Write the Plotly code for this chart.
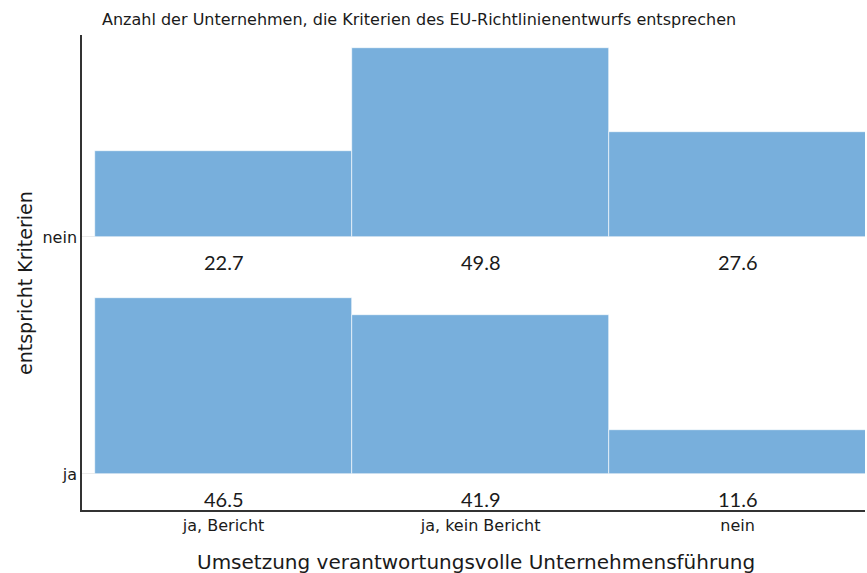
import plotly.graph_objects as go

categories = ["ja, Bericht", "ja, kein Bericht", "nein"]
rows = ["ja", "nein"]
values_ja = [46.5, 41.9, 11.6]
values_nein = [22.7, 49.8, 27.6]

FONT = "DejaVu Sans"
COLOR = "#78afdc"
SCALE = 0.8 / 50.0

# screen geometry of plot area
PL, PR, PT, PB = 82, 865, 35, 510
W, H = 867, 573

def px(xs):
    return (xs - PL) / (PR - PL)

def py(ys):
    return (PB - ys) / (PB - PT)

fig = go.Figure()
x_pos = [1, 2, 3]
annotations = []
for r_idx, vals in ((1, values_ja), (2, values_nein)):
    fig.add_trace(go.Bar(
        x=x_pos,
        y=[v * SCALE for v in vals],
        base=[r_idx] * len(vals),
        width=1,
        marker=dict(color=COLOR, line=dict(color="white", width=0.6)),
        showlegend=False,
        hoverinfo="skip",
    ))
    for xp, v in zip(x_pos, vals):
        annotations.append(dict(
            x=xp, y=r_idx - 0.105, xref="x", yref="y",
            text=f"{v:.1f}", showarrow=False,
            font=dict(family="Lato", size=20, color="#1a1a1a"),
        ))

annotations.append(dict(
    x=px(100), y=py(20), xref="paper", yref="paper",
    text="Anzahl der Unternehmen, die Kriterien des EU-Richtlinienentwurfs entsprechen",
    showarrow=False, font=dict(family=FONT, size=16, color="#1a1a1a"),
    xanchor="left", yanchor="middle",
))
annotations.append(dict(
    x=px(476), y=py(562), xref="paper", yref="paper",
    text="Umsetzung verantwortungsvolle Unternehmensführung",
    showarrow=False, font=dict(family=FONT, size=20, color="#1a1a1a"),
    xanchor="center", yanchor="middle",
))
annotations.append(dict(
    x=px(25), y=py(283), xref="paper", yref="paper",
    text="entspricht Kriterien", textangle=-90,
    showarrow=False, font=dict(family=FONT, size=19, color="#1a1a1a"),
    xanchor="center", yanchor="middle",
))

fig.update_layout(
    width=W, height=H,
    margin=dict(l=PL, r=W - PR, t=PT, b=H - PB),
    plot_bgcolor="white", paper_bgcolor="white",
    bargap=0, barmode="overlay",
    annotations=annotations,
    font=dict(family=FONT, color="#1a1a1a"),
    xaxis=dict(
        range=[0.449, 3.496], automargin=False,
        tickvals=x_pos, ticktext=categories,
        tickfont=dict(family=FONT, size=16, color="#1a1a1a"),
        showgrid=False, zeroline=False,
        showline=True, linecolor="#333333", linewidth=1.5,
        ticks="", ticklen=0,
    ),
    yaxis=dict(
        range=[0.848, 2.852], automargin=False,
        tickvals=[1, 2], ticktext=rows,
        tickfont=dict(family=FONT, size=16, color="#1a1a1a"),
        showgrid=True, gridcolor="#ebebeb", gridwidth=1,
        zeroline=False,
        showline=True, linecolor="#333333", linewidth=1.5,
        ticks="", ticklen=0,
    ),
)

fig.write_html(
    "out.html",
    config={"displayModeBar": False},
    post_script="document.body.style.margin='0';document.body.style.overflow='hidden';",
)
